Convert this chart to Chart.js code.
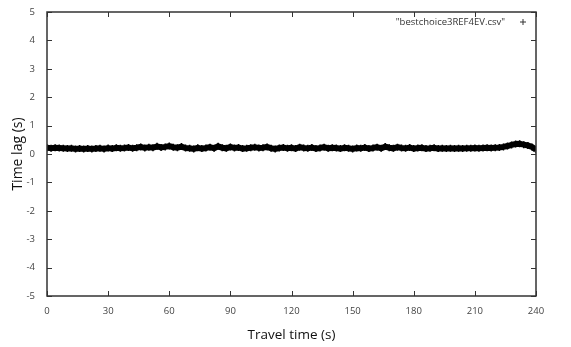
<!DOCTYPE html>
<html>
<head>
<meta charset="utf-8">
<script src="https://cdn.jsdelivr.net/npm/chart.js@4"></script>
<style>
  html, body { margin: 0; padding: 0; background: #fff; }
  #wrap { width: 571px; height: 347px; position: relative; }
</style>
</head>
<body>
<div id="wrap"><canvas id="c"></canvas></div>
<script>
// Time lag vs travel time, gnuplot-style plot of one csv file.
const seriesLabel = '"bestchoice3REF4EV.csv"';
const travelTime = [];
for (let t = 0; t <= 240; t += 2) travelTime.push(t);
const timeLag = [
  0.22, 0.20, 0.22, 0.21, 0.20, 0.19, 0.20, 0.18, 0.19, 0.18, 0.19,
  0.18, 0.19, 0.20, 0.18, 0.21, 0.19, 0.22, 0.20, 0.21, 0.23, 0.20, 0.22, 0.25, 0.21, 0.24, 0.22, 0.27, 0.23, 0.25, 0.28,
  0.24, 0.22, 0.26, 0.21, 0.20, 0.18, 0.22, 0.19, 0.21, 0.24, 0.20, 0.27, 0.22, 0.20, 0.25, 0.21, 0.23, 0.19, 0.20, 0.22,
  0.24, 0.21, 0.22, 0.25, 0.20, 0.18, 0.21, 0.23, 0.20, 0.22, 0.19, 0.24, 0.21, 0.20, 0.23, 0.19, 0.21, 0.24, 0.20, 0.22,
  0.21, 0.19, 0.22, 0.20, 0.18, 0.21, 0.20, 0.23, 0.19, 0.21, 0.24, 0.20, 0.26, 0.22, 0.20, 0.24, 0.21, 0.20, 0.23, 0.19,
  0.21, 0.22, 0.19, 0.20, 0.22, 0.19, 0.20, 0.19, 0.20, 0.19, 0.20, 0.19, 0.20, 0.20, 0.21, 0.20, 0.21, 0.22, 0.21, 0.22,
  0.23, 0.25, 0.28, 0.32, 0.35, 0.36, 0.33, 0.30, 0.25, 0.15,
];
const xTicks = [0, 30, 60, 90, 120, 150, 180, 210, 240];
const yTicks = [-5, -4, -3, -2, -1, 0, 1, 2, 3, 4, 5];

const FONT = '"Open Sans", "Noto Sans", sans-serif';
const TICK = '#444';

// gnuplot look: full border, inward ticks mirrored on all four sides, key top right
const gnuplotFrame = {
  id: 'gnuplotFrame',
  afterDatasetsDraw(chart) {
    const { ctx, chartArea: a, scales: { x, y } } = chart;
    ctx.save();
    ctx.strokeStyle = '#333';
    ctx.lineWidth = 1;
    const len = 5;
    ctx.beginPath();
    for (const v of xTicks) {
      const px = Math.round(x.getPixelForValue(v)) + 0.5;
      ctx.moveTo(px, a.bottom); ctx.lineTo(px, a.bottom - len);
      ctx.moveTo(px, a.top); ctx.lineTo(px, a.top + len);
    }
    for (const v of yTicks) {
      const py = Math.round(y.getPixelForValue(v)) + 0.5;
      ctx.moveTo(a.left, py); ctx.lineTo(a.left + len, py);
      ctx.moveTo(a.right, py); ctx.lineTo(a.right - len, py);
    }
    ctx.stroke();
    ctx.lineWidth = 1.5;
    ctx.strokeRect(a.left, a.top, a.right - a.left, a.bottom - a.top);
    // key
    ctx.fillStyle = '#333';
    ctx.font = '9.5px ' + FONT;
    ctx.textAlign = 'right';
    ctx.textBaseline = 'middle';
    ctx.fillText(seriesLabel, a.right - 31, a.top + 10);
    ctx.lineWidth = 1;
    ctx.beginPath();
    const kx = a.right - 13, ky = a.top + 10;
    ctx.moveTo(kx - 3, ky); ctx.lineTo(kx + 3, ky);
    ctx.moveTo(kx, ky - 3); ctx.lineTo(kx, ky + 3);
    ctx.stroke();
    ctx.restore();
  },
};

new Chart(document.getElementById('c'), {
  type: 'line',
  data: {
    labels: travelTime,
    datasets: [{
      label: seriesLabel,
      data: travelTime.map((t, i) => ({ x: t, y: timeLag[i] })),
      borderColor: '#000',
      backgroundColor: '#000',
      borderWidth: 6,
      pointStyle: 'cross',
      pointRadius: 3.5,
      pointBorderWidth: 1.5,
      tension: 0,
    }],
  },
  options: {
    responsive: true,
    maintainAspectRatio: false,
    animation: false,
    layout: { padding: { left: 6, right: 35, top: 12, bottom: 0 } },
    plugins: { legend: { display: false }, tooltip: { enabled: false } },
    scales: {
      x: {
        type: 'linear',
        min: 0, max: 240,
        afterBuildTicks: (s) => { s.ticks = xTicks.map(v => ({ value: v })); },
        afterFit: (s) => { s.height = 51; },
        ticks: { color: TICK, font: { family: FONT, size: 9.5 }, padding: 2, maxRotation: 0 },
        grid: { display: false },
        border: { display: false },
        title: { display: true, text: 'Travel time (s)', color: '#111', font: { family: FONT, size: 13.5 }, padding: { top: 0 } },
      },
      y: {
        min: -5, max: 5,
        afterBuildTicks: (s) => { s.ticks = yTicks.map(v => ({ value: v })); },
        afterFit: (s) => { s.width = 41; },
        ticks: { color: TICK, font: { family: FONT, size: 9.5 }, padding: 4 },
        grid: { display: false },
        border: { display: false },
        title: { display: true, text: 'Time lag (s)', color: '#111', font: { family: FONT, size: 14 }, padding: { bottom: 0 } },
      },
    },
  },
  plugins: [gnuplotFrame],
});
</script>
</body>
</html>
